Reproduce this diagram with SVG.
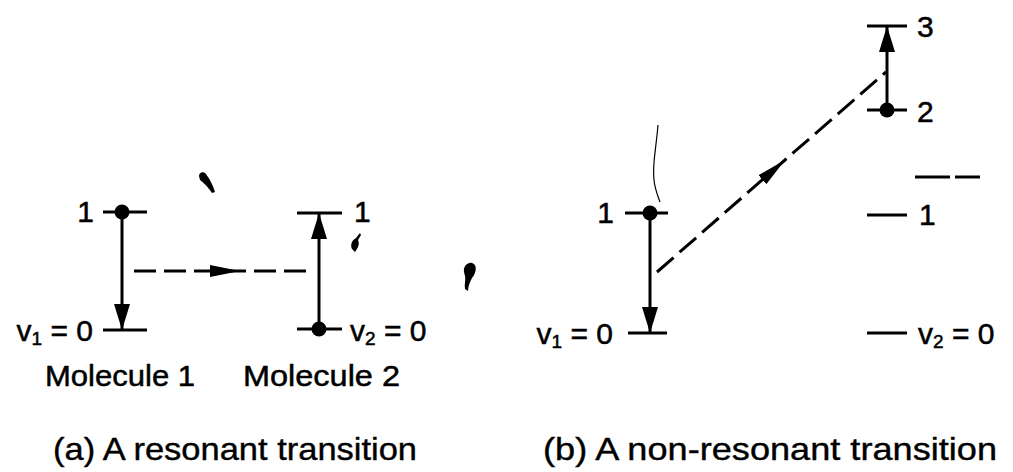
<svg xmlns="http://www.w3.org/2000/svg" width="1013" height="472" viewBox="0 0 1013 472">
<style>
.lv{stroke:#000;stroke-width:3;fill:none}
.ar{stroke:#000;stroke-width:3;fill:none}
.da{stroke:#000;stroke-width:3;fill:none;stroke-dasharray:22 8}
.t{font-family:"Liberation Sans",Arial,Helvetica,sans-serif;font-size:30px;fill:#000;stroke:#000;stroke-width:0.5}
.cap{font-family:"Liberation Sans",Arial,Helvetica,sans-serif;font-size:32px;fill:#000;stroke:#000;stroke-width:0.4}
.dot{fill:#000}
.blob{fill:#000}
</style>
<defs>
<marker id="ah" markerUnits="userSpaceOnUse" markerWidth="26" markerHeight="18" viewBox="0 0 26 18" refX="26" refY="9" orient="auto">
<path d="M0,1 L26,9 L0,17 Z" fill="#000"/>
</marker>
<marker id="am" markerUnits="userSpaceOnUse" markerWidth="30" markerHeight="14" viewBox="0 0 30 14" refX="30" refY="7" orient="auto">
<path d="M0,1 L30,7 L0,13 Z" fill="#000"/>
</marker>
</defs>

<!-- (a) Molecule 1 -->
<g id="a-m1-level1">
<line class="lv" x1="103" y1="212" x2="147" y2="212"/>
<text class="t" x="94" y="222" text-anchor="end">1</text>
<circle class="dot" cx="122" cy="212" r="7.5"/>
</g>
<g id="a-m1-level0">
<line class="lv" x1="103" y1="330" x2="147" y2="330"/>
<text class="t" x="93" y="341" text-anchor="end">v<tspan font-size="19" dy="4">1</tspan><tspan dy="-4"> = 0</tspan></text>
</g>
<!-- (a) Molecule 2 -->
<g id="a-m2-level1">
<line class="lv" x1="297" y1="213" x2="342" y2="213"/>
<text class="t" x="354" y="222">1</text>
</g>
<g id="a-m2-level0">
<line class="lv" x1="297" y1="329" x2="342" y2="329"/>
<circle class="dot" cx="319" cy="329" r="7.5"/>
<text class="t" x="350" y="341">v<tspan font-size="19" dy="4">2</tspan><tspan dy="-4"> = 0</tspan></text>
</g>
<g id="a-labels">
<text class="t" x="45" y="386" textLength="150" lengthAdjust="spacingAndGlyphs">Molecule 1</text>
<text class="t" x="243" y="386" textLength="157" lengthAdjust="spacingAndGlyphs">Molecule 2</text>
<text class="cap" x="53" y="460" textLength="364" lengthAdjust="spacingAndGlyphs">(a) A resonant transition</text>
</g>

<!-- (b) Molecule 1 -->
<g id="b-m1-level1">
<line class="lv" x1="625" y1="213" x2="668" y2="213"/>
<circle class="dot" cx="650" cy="213" r="7.5"/>
<text class="t" x="614" y="223" text-anchor="end">1</text>
</g>
<g id="b-m1-level0">
<line class="lv" x1="628" y1="333" x2="667" y2="333"/>
<text class="t" x="613" y="344" text-anchor="end">v<tspan font-size="19" dy="4">1</tspan><tspan dy="-4"> = 0</tspan></text>
</g>
<!-- (b) Molecule 2 -->
<g id="b-m2-level3">
<line class="lv" x1="867" y1="26" x2="907" y2="26"/>
<text class="t" x="917" y="37">3</text>
</g>
<g id="b-m2-level2">
<line class="lv" x1="867" y1="110" x2="907" y2="110"/>
<circle class="dot" cx="887" cy="110" r="7.5"/>
<text class="t" x="917" y="122">2</text>
</g>
<g id="b-m2-dashed-level">
<line class="lv" x1="915" y1="177" x2="950" y2="177"/>
<line class="lv" x1="955" y1="177" x2="980" y2="177"/>
</g>
<g id="b-m2-level1">
<line class="lv" x1="867" y1="215" x2="907" y2="215"/>
<text class="t" x="919" y="225">1</text>
</g>
<g id="b-m2-level0">
<line class="lv" x1="867" y1="333" x2="907" y2="333"/>
<text class="t" x="918" y="344">v<tspan font-size="19" dy="4">2</tspan><tspan dy="-4"> = 0</tspan></text>
</g>
<g id="b-labels">
<text class="cap" x="543" y="460" textLength="454" lengthAdjust="spacingAndGlyphs">(b) A non-resonant transition</text>
</g>

<!-- connectors -->
<g id="connectors">
<line class="ar" x1="122" y1="212" x2="122" y2="330" marker-end="url(#ah)"/>
<line class="ar" x1="319" y1="329" x2="319" y2="213" marker-end="url(#ah)"/>
<path class="da" d="M134,271 L240,271 L313,271" marker-mid="url(#am)"/>
<line class="ar" x1="650" y1="213" x2="650" y2="333" marker-end="url(#ah)"/>
<line class="ar" x1="887" y1="110" x2="887" y2="26" marker-end="url(#ah)"/>
<path class="da" d="M657,272 L785,160 L886,72" marker-mid="url(#am)"/>
</g>

<!-- stray marks -->
<g id="marks">
<path d="M658,125 C656,150 652,165 654,180 C655,190 658,196 660,202" stroke="#000" stroke-width="1.2" fill="none"/>
<path class="blob" d="M199,176 C199,172 204,171 206,174 C209,178 213,185 215,192 L212,193 C208,187 203,182 200,180 Z"/>
<path class="blob" d="M352,249 C350,245 352,240 356,238 L360,233 L361,235 L358,240 C360,244 358,248 355,252 Z"/>
<path class="blob" d="M464,272 C463,266 468,262 472,263 C477,264 477,272 472,278 C470,282 468,286 468,291 L465,289 C464,284 466,280 465,276 Z"/>
</g>
</svg>
